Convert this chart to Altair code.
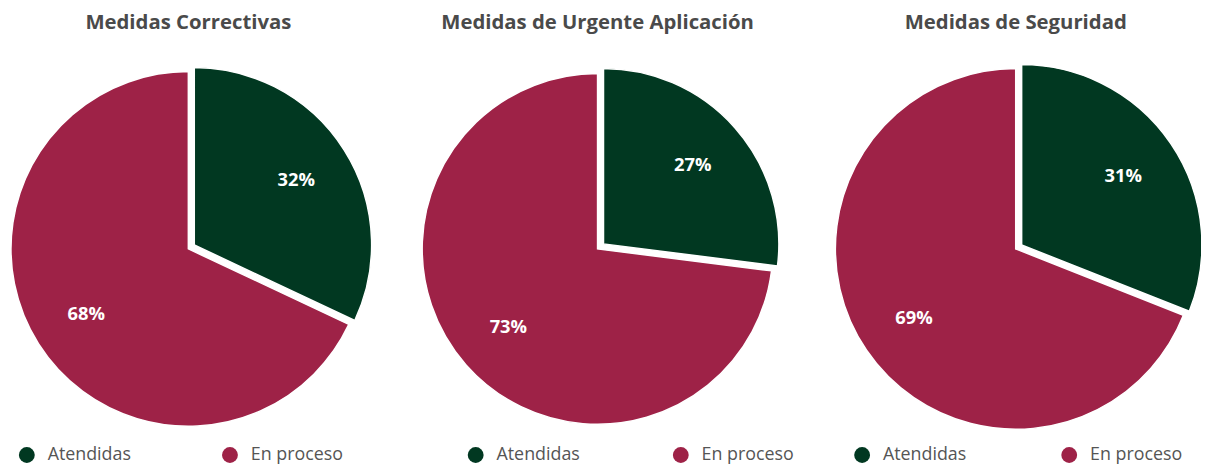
import altair as alt
import pandas as pd

# ---- data ----
titulos = ["Medidas Correctivas", "Medidas de Urgente Aplicación", "Medidas de Seguridad"]
estados = ["Atendidas", "En proceso"]
atendidas = [32, 27, 31]
en_proceso = [68, 73, 69]

# ---- style ----
colores = ["#013821", "#9E2247"]
anchos = [356, 470, 374]
radios = [179, 177, 182]
desplaz = [(6, -4), (6, -5), (6, -4)]
leyenda_x = [6, 103, 23]
col_pad = [90, 92, 94]
recorte = [False, False, True]
ALTO = 380
FUENTE = "Open Sans"


def panel(i):
    df = pd.DataFrame({
        "estado": estados,
        "valor": [atendidas[i], en_proceso[i]],
        "orden": [0, 1],
    })
    df["etiqueta"] = df["valor"].astype(str) + "%"
    r = radios[i]
    dx, dy = desplaz[i]
    lr = round(r * 0.68)

    color = alt.Color(
        "estado:N",
        scale=alt.Scale(domain=estados, range=colores),
        legend=alt.Legend(
            title=None, orient="none", direction="horizontal",
            legendX=leyenda_x[i], legendY=ALTO + 9,
            symbolType="circle", symbolSize=256, symbolStrokeWidth=0,
            symbolOpacity=1,
            labelFont=FUENTE, labelFontSize=18, labelColor="#555555",
            labelOffset=12, columnPadding=col_pad[i], padding=0,
        ),
    )
    es_at = alt.datum.estado == "Atendidas"
    base = alt.Chart(df).encode(
        theta=alt.Theta("valor:Q", stack=True, scale=alt.Scale(domain=[0, 100])),
        order=alt.Order("orden:Q"),
    )
    rojo = base.mark_arc(radius=r, stroke="white", strokeWidth=1.5, clip=recorte[i]).encode(
        color=color, opacity=alt.condition(es_at, alt.value(0), alt.value(1)))
    verde = base.mark_arc(radius=r, stroke="white", strokeWidth=1.5, clip=recorte[i],
                          xOffset=dx, yOffset=dy).encode(
        color=color, opacity=alt.condition(es_at, alt.value(1), alt.value(0)))
    txt_rojo = base.mark_text(radius=lr, font=FUENTE, fontSize=18.5, fontWeight="bold",
                              color="white").encode(
        text="etiqueta:N", opacity=alt.condition(es_at, alt.value(0), alt.value(1)))
    txt_verde = base.mark_text(radius=lr, font=FUENTE, fontSize=18.5, fontWeight="bold",
                               color="white", xOffset=dx, yOffset=dy).encode(
        text="etiqueta:N", opacity=alt.condition(es_at, alt.value(1), alt.value(0)))
    return alt.layer(rojo, verde, txt_rojo, txt_verde).properties(
        width=anchos[i], height=ALTO,
        title=alt.TitleParams(titulos[i], font=FUENTE, fontSize=20.5, fontWeight="bold",
                              color="#4a4a4a", anchor="middle", offset=27),
    )


chart = alt.hconcat(*[panel(i) for i in range(3)], spacing=0, bounds="flush").resolve_scale(
    color="independent"
).properties(padding={"top": 3, "left": 0, "right": 0, "bottom": 0}).configure_view(stroke=None)

chart.save("out.html", embed_options={"renderer": "svg", "actions": False})
